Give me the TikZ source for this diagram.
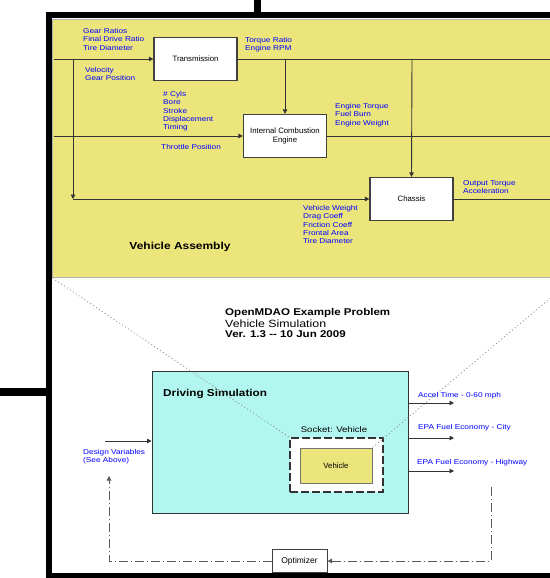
\documentclass[tikz,border=0pt]{standalone}
\usepackage{fontspec}
\setmainfont{Liberation Sans}
\usetikzlibrary{arrows.meta}
\definecolor{vyellow}{RGB}{236,229,124}
\definecolor{vcyan}{RGB}{178,246,240}
\definecolor{vblue}{RGB}{0,0,255}
\tikzset{
  ln/.style={draw=black!80, line width=0.9bp},
  arr/.style={-{Triangle[length=4.5bp,width=4.5bp]}},
  blk/.style={draw=black!75, line width=1.3bp, fill=white, minimum width=83bp, minimum height=43bp, inner sep=0pt, font=\fontsize{7.8}{8.6}\selectfont, align=center},
  lbl/.style={text=vblue, font=\fontsize{8.3}{9.6}\selectfont, align=left, inner sep=0pt, anchor=north west, yscale=0.85, transform shape},
  ttl/.style={inner sep=0pt, anchor=base west, yscale=0.85, transform shape},
  zoomln/.style={draw=black!45, line width=0.8bp, dash pattern=on 1bp off 2.5bp},
  fb/.style={draw=black!65, line width=0.9bp, dash pattern=on 9bp off 3bp on 1bp off 3bp},
}
\begin{document}
\begin{tikzpicture}[x=1bp,y=-1bp]
\useasboundingbox (0,0) rectangle (550,578);
\clip (0,0) rectangle (550,578);
\fill[white] (0,0) rectangle (550,578);
% frame
\draw[line width=6.6bp] (600,15) -- (49,15) -- (49,576.5) -- (600,576.5);
\draw[line width=7bp] (257.5,0) -- (257.5,15);
\draw[line width=7.5bp] (0,392) -- (49,392);
% vehicle assembly
\node[fill=vyellow, draw=black!30, line width=1bp, minimum width=521bp, minimum height=258bp, inner sep=0pt] (asm) at (313.5,148.5) {};
\node[blk] (trans) at (195.5,59) {Transmission};
\node[blk] (engine) at (285,136) {Internal Combustion\\Engine};
\node[blk] (chassis) at (411.5,199) {Chassis};
\coordinate (inA) at (53.5,59);
\coordinate (outA) at (575,59);
\coordinate (jA) at (73,59);
\coordinate (jB) at (73,199);
\coordinate (jC) at (285,59);
\coordinate (jD) at (412,59);
\coordinate (inB) at (53.5,136);
\coordinate (outB) at (575,136);
\coordinate (outC) at (575,199);
\draw[ln,arr] (inA) -- (trans.west);
\draw[ln] (trans.east) -- (outA);
\draw[ln,arr] (jA) -- (jB);
\draw[ln,arr] (jB) -- (chassis.west);
\draw[ln,arr] (jC) -- (engine.north);
\draw[ln,arr] (jD) -- (chassis.north);
\draw[ln,arr] (inB) -- (engine.west);
\draw[ln] (engine.east) -- (outB);
\draw[ln] (chassis.east) -- (outC);
\node[lbl] (lgear) at (83,28.5) {Gear Ratios\\Final Drive Ratio\\Tire Diameter};
\node[lbl] (ltorq) at (245,37.5) {Torque Ratio\\Engine RPM};
\node[lbl] (lvel) at (85,67.5) {Velocity\\Gear Position};
\node[lbl] (leng) at (163,91.5) {\# Cyls\\Bore\\Stroke\\Displacement\\Timing};
\node[lbl] (lthr) at (161,144.5) {Throttle Position};
\node[lbl] (leout) at (335,103.5) {Engine Torque\\Fuel Burn\\Engine Weight};
\node[lbl] (lchin) at (303,205.5) {Vehicle Weight\\Drag Coeff\\Friction Coeff\\Frontal Area\\Tire Diameter};
\node[lbl] (lchout) at (463,180.5) {Output Torque\\Acceleration};
\node[ttl, anchor=center, font=\bfseries\fontsize{12}{13}\selectfont] (tasm) at (180,246.5) {Vehicle Assembly};
% title
\node[ttl, font=\bfseries\fontsize{11.6}{12}\selectfont] (t1) at (225,315.8) {OpenMDAO Example Problem};
\node[ttl, font=\fontsize{12.4}{13}\selectfont] (t2) at (225,327) {Vehicle Simulation};
\node[ttl, font=\bfseries\fontsize{11.6}{12}\selectfont] (t3) at (225,337.3) {Ver. 1.3 -{}- 10 Jun 2009};
% driving simulation
\node[draw=black!80, line width=1bp, fill=vcyan, minimum width=256bp, minimum height=142bp, inner sep=0pt] (sim) at (280,442) {};
\node[ttl, font=\bfseries\fontsize{11.8}{12}\selectfont] (tsim) at (163,396.8) {Driving Simulation};
\node[draw=black!80, fill=white, line width=1.6bp, dash pattern=on 8bp off 3bp, minimum width=93bp, minimum height=54bp, inner sep=0pt] (socket) at (336.5,465) {};
\node[fill=vyellow, draw=black!55, line width=1bp, minimum width=72bp, minimum height=35bp, inner sep=0pt, font=\fontsize{7.8}{8.6}\selectfont] (veh) at (336,465.5) {Vehicle};
\node[ttl, anchor=center, font=\fontsize{9.6}{10}\selectfont] (tsock) at (334,430) {Socket: Vehicle};
\draw[zoomln] (asm.south west) -- (socket.north west);
\draw[zoomln] (asm.south east) -- (veh.north east);
% inputs / outputs
\coordinate (dvS) at (105,441);
\draw[ln,arr] (dvS) -- (sim.west |- dvS);
\node[lbl] (ldv) at (83,449.5) {Design Variables\\(See Above)};
\coordinate (o1) at (454,403);
\coordinate (o2) at (454,438);
\coordinate (o3) at (454,471);
\draw[ln,arr] (sim.east |- o1) -- (o1);
\draw[ln,arr] (sim.east |- o2) -- (o2);
\draw[ln,arr] (sim.east |- o3) -- (o3);
\node[lbl] (lo1) at (418,392.5) {Accel Time - 0-60 mph};
\node[lbl] (lo2) at (418,424.5) {EPA Fuel Economy - City};
\node[lbl] (lo3) at (417,459.5) {EPA Fuel Economy - Highway};
% optimizer loop
\node[draw=black!75, line width=1bp, fill=white, minimum width=55bp, minimum height=23bp, inner sep=0pt, font=\fontsize{8.5}{9}\selectfont] (opt) at (299.5,561) {Optimizer};
\coordinate (fbS) at (491,487);
\coordinate (fbC) at (491,561);
\coordinate (fbL) at (109,561);
\coordinate (fbE) at (109,476);
\draw[fb,arr] (fbS) -- (fbC) -- (opt.east);
\draw[fb,arr] (opt.west) -- (fbL) -- (fbE);
\end{tikzpicture}
\end{document}
